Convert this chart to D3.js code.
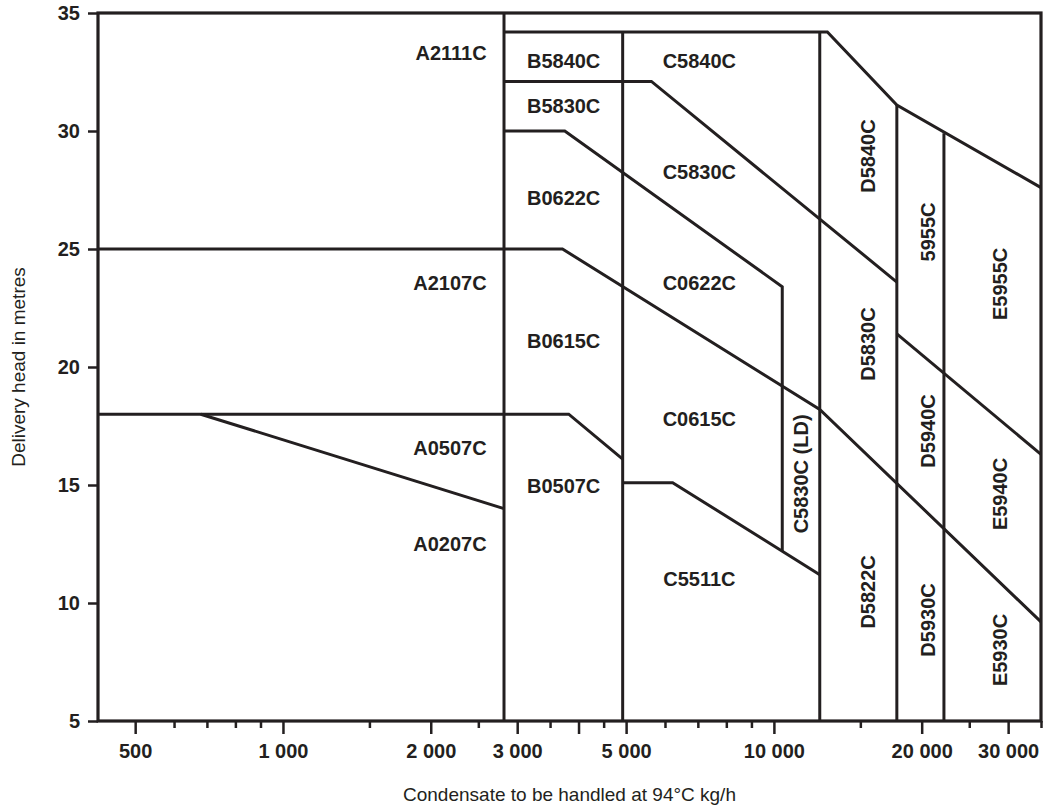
<!DOCTYPE html>
<html>
<head>
<meta charset="utf-8">
<script src="https://cdn.jsdelivr.net/npm/d3@7"></script>
<style>
body { margin: 0; background: #fff; }
svg text { font-family: "Liberation Sans", Arial, sans-serif; fill: #231f20; }
.lbl { font-weight: bold; font-size: 20px; }
.tickl text { font-weight: bold; font-size: 20px; }
.ttl { font-size: 19px; }
</style>
</head>
<body>
<div id="chart"></div>
<script>
// axis ticks
var yTicks = [5, 10, 15, 20, 25, 30, 35];
var xMajor = [500, 1000, 2000, 3000, 5000, 10000, 20000, 30000];
var xLongNoLabel = [4000];
var xMinor = [600, 700, 800, 900, 1500, 2500, 3500, 4500, 6000, 7000, 8000, 9000, 15000, 25000, 35000];

// boundary lines, [flow kg/h, head m]
var topLine = [[2820, 34.2], [12850, 34.2], [17800, 31.1], [35000, 27.6]];
var b5830Line = [[2820, 32.1], [5630, 32.1], [17800, 23.6]];
var b0622Line = [[2820, 30], [3750, 30], [10400, 23.4], [10400, 12.2]];
var line25 = [[420, 25], [3710, 25], [12400, 18.2], [35000, 9.2]];
var line18 = [[420, 18], [3820, 18], [4920, 16.1]];
var a0507Line = [[680, 18], [2820, 14]];
var c5511Line = [[4920, 15.1], [6220, 15.1], [12400, 11.2]];
var d5940Line = [[17800, 21.4], [35000, 16.3]];

// vertical dividers: flow and top head
var vFlows = [2820, 4920, 12400, 17800, 22200];
var vTops = [35, 34.2, 34.2, 31.1, 29.9];

// model labels: name, flow, head
var hNames = ["B5840C", "B5830C", "B0622C", "B0615C", "B0507C",
              "C5840C", "C5830C", "C0622C", "C0615C", "C5511C"];
var hFlow = [3730, 3730, 3730, 3730, 3730, 7050, 7050, 7050, 7050, 7050];
var hHead = [32.97, 31.06, 27.16, 21.1, 14.96, 32.97, 28.26, 23.56, 17.8, 11.02];

var aNames = ["A2111C", "A2107C", "A0507C", "A0207C"];
var aHead = [33.3, 23.56, 16.57, 12.5];
var aFlowEnd = 2600;

// rotated labels
var rNames = ["C5830C (LD)", "D5840C", "D5830C", "D5822C", "5955C", "D5940C", "D5930C", "E5955C", "E5940C", "E5930C"];
var rFlow = [11320, 15500, 15500, 15500, 20620, 20620, 20620, 28900, 28900, 28900];
var rHead = [15.47, 28.94, 20.97, 10.47, 25.72, 17.29, 9.28, 23.52, 14.62, 8.01];

var W = 1048, H = 812;
var ink = "#231f20";

var svg = d3.select("#chart").append("svg")
    .attr("width", W)
    .attr("height", H);

var x = d3.scaleLog().domain([420, 35000]).range([98, 1041]);
var y = d3.scaleLinear().domain([5, 35]).range([721, 13]);

var line = d3.line()
    .x(function(d) { return x(d[0]); })
    .y(function(d) { return y(d[1]); });

// boundaries
[topLine, b5830Line, b0622Line, line25, line18, a0507Line, c5511Line, d5940Line].forEach(function(pts) {
    svg.append("path")
        .attr("d", line(pts))
        .attr("fill", "none")
        .attr("stroke", ink)
        .attr("stroke-width", 3)
        .attr("stroke-linejoin", "miter");
});

for (var i = 0; i < vFlows.length; i++) {
    svg.append("line")
        .attr("x1", x(vFlows[i])).attr("x2", x(vFlows[i]))
        .attr("y1", y(vTops[i])).attr("y2", y(5))
        .attr("stroke", ink)
        .attr("stroke-width", 3);
}

// frame
svg.append("rect")
    .attr("x", x(420)).attr("y", y(35))
    .attr("width", x(35000) - x(420))
    .attr("height", y(5) - y(35))
    .attr("fill", "none")
    .attr("stroke", ink)
    .attr("stroke-width", 3.2);

// axes
svg.append("g")
    .attr("class", "tickl")
    .attr("transform", "translate(" + x(420) + ",0)")
    .call(d3.axisLeft(y).tickValues(yTicks).tickSize(10).tickPadding(8));

svg.append("g")
    .attr("class", "tickl")
    .attr("transform", "translate(0," + y(5) + ")")
    .call(d3.axisBottom(x).tickValues(xMajor).tickSize(13).tickPadding(10)
        .tickFormat(function(d) { return d3.format(",")(d).replace(",", " "); }));

svg.append("g")
    .attr("transform", "translate(0," + y(5) + ")")
    .call(d3.axisBottom(x).tickValues(xLongNoLabel).tickSize(13).tickFormat(""));

svg.append("g")
    .attr("transform", "translate(0," + y(5) + ")")
    .call(d3.axisBottom(x).tickValues(xMinor).tickSize(7).tickFormat(""));

svg.selectAll(".domain").remove();
svg.selectAll(".tick line").attr("stroke", ink).attr("stroke-width", 2.5);
svg.selectAll(".tick text").attr("fill", ink);

// labels
for (var i = 0; i < hNames.length; i++) {
    svg.append("text")
        .attr("class", "lbl")
        .attr("x", x(hFlow[i]))
        .attr("y", y(hHead[i]))
        .attr("dy", "0.36em")
        .attr("text-anchor", "middle")
        .text(hNames[i]);
}

for (var i = 0; i < aNames.length; i++) {
    svg.append("text")
        .attr("class", "lbl")
        .attr("x", x(aFlowEnd))
        .attr("y", y(aHead[i]))
        .attr("dy", "0.36em")
        .attr("text-anchor", "end")
        .text(aNames[i]);
}

for (var i = 0; i < rNames.length; i++) {
    svg.append("text")
        .attr("class", "lbl")
        .attr("transform", "translate(" + x(rFlow[i]) + "," + y(rHead[i]) + ") rotate(-90)")
        .attr("dy", "0.36em")
        .attr("text-anchor", "middle")
        .text(rNames[i]);
}

// axis titles
svg.append("text")
    .attr("class", "ttl")
    .attr("transform", "translate(18," + (y(5) + y(35)) / 2 + ") rotate(-90)")
    .attr("dy", "0.36em")
    .attr("text-anchor", "middle")
    .text("Delivery head in metres");

svg.append("text")
    .attr("class", "ttl")
    .attr("x", (x(420) + x(35000)) / 2)
    .attr("y", 801)
    .attr("text-anchor", "middle")
    .text("Condensate to be handled at 94°C kg/h");
</script>
</body>
</html>
